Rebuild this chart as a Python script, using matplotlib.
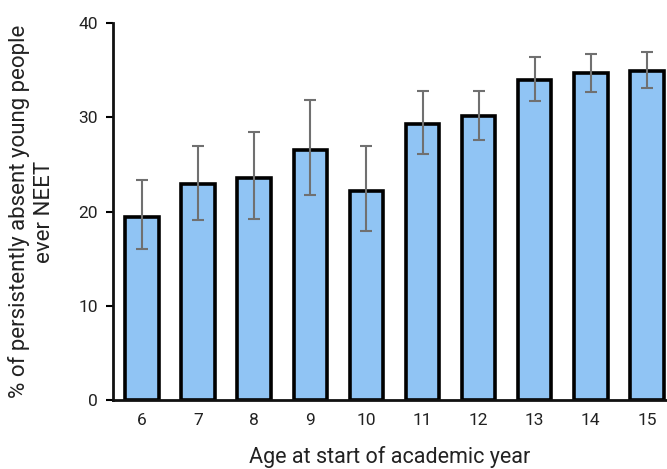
import matplotlib.pyplot as plt
import numpy as np

plt.rcParams['font.family'] = ['Roboto', 'DejaVu Sans']

# data
ages    = [6, 7, 8, 9, 10, 11, 12, 13, 14, 15]
values  = [19.4, 22.9, 23.6, 26.5, 22.2, 29.3, 30.1, 34.0, 34.7, 34.9]
err_lo  = [16.0, 19.1, 19.2, 21.7, 17.9, 26.1, 27.6, 31.7, 32.7, 33.1]
err_hi  = [23.3, 27.0, 28.4, 31.8, 27.0, 32.8, 32.8, 36.4, 36.7, 36.9]


def main():
    v    = np.array(values)
    yerr = np.array([v - np.array(err_lo), np.array(err_hi) - v])

    fig = plt.figure(figsize=(6.67, 4.69), dpi=100)
    ax  = fig.add_axes([0.1694, 0.147, 0.8306, 0.804])

    ax.bar(ages, values, width=0.6, color='#90c4f4', edgecolor='black', linewidth=2.6, zorder=2)
    ax.errorbar(ages, values, yerr=yerr, fmt='none', ecolor='#707070', elinewidth=1.5,
                capsize=4, capthick=1.5, zorder=3)

    ax.set_xlim(5.48, 15.36)
    ax.set_ylim(0, 40)
    ax.set_xticks(ages)
    ax.set_yticks([0, 10, 20, 30, 40])

    for s in ['top', 'right']:
        ax.spines[s].set_visible(False)
    for s in ['left', 'bottom']:
        ax.spines[s].set_linewidth(2.0)
        ax.spines[s].set_color('#111111')

    ax.tick_params(axis='x', length=0, pad=9, labelsize=12.5, labelcolor='#222222')
    ax.tick_params(axis='y', length=5, width=1.5, pad=6, labelsize=12.5, labelcolor='#222222')

    ax.set_xlabel('Age at start of academic year', fontsize=15.5, color='#222222', labelpad=13)
    ax.set_ylabel('% of persistently absent young people\never NEET', fontsize=16,
                  color='#222222', labelpad=17, linespacing=1.2)

    fig.savefig('out.png', dpi=100)


if __name__ == '__main__':
    main()
